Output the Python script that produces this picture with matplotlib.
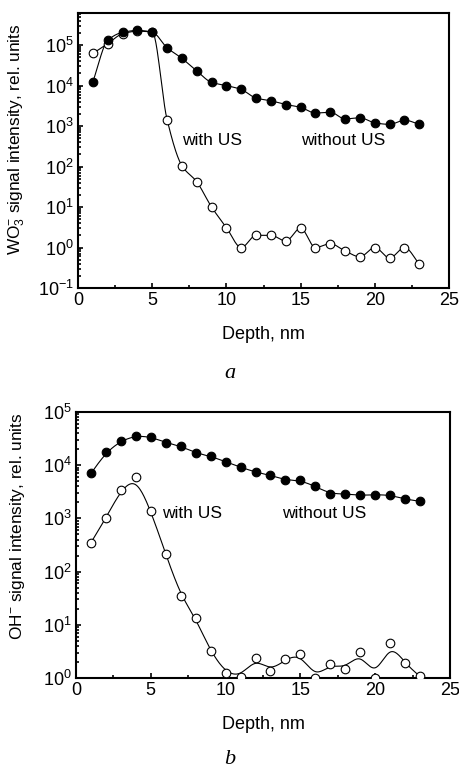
import numpy as np
import matplotlib
matplotlib.use("Agg")
import matplotlib.pyplot as plt
from matplotlib.ticker import LogLocator, FixedLocator, MultipleLocator, NullFormatter

plt.rcParams['font.family'] = ['Liberation Sans', 'DejaVu Sans']
plt.rcParams['mathtext.fontset'] = 'custom'
plt.rcParams['mathtext.rm'] = 'Liberation Sans'
plt.rcParams['mathtext.it'] = 'Liberation Sans:italic'

# -------------------- DATA --------------------
depth = list(range(1, 24))

# panel a: WO3- signal
wo3_without = [1.24e4, 1.3e5, 2.06e5, 2.3e5, 2.1e5, 8.6e4, 4.7e4, 2.3e4, 1.2e4,
               1.0e4, 8.0e3, 4.9e3, 4.2e3, 3.4e3, 2.9e3, 2.1e3, 2.2e3, 1.5e3,
               1.6e3, 1.2e3, 1.1e3, 1.4e3, 1.1e3]
wo3_with = [6.2e4, 1.08e5, 1.9e5, 2.2e5, 2.1e5, 1.45e3, 105, 42, 10, 3.1, 1.0,
            2.0, 2.0, 1.45, 3.0, 1.0, 1.24, 0.82, 0.59, 1.0, 0.55, 1.0, 0.39]

# panel b: OH- signal
oh_without = [7.0e3, 1.74e4, 2.86e4, 3.6e4, 3.4e4, 2.67e4, 2.28e4, 1.7e4, 1.48e4,
              1.16e4, 9.2e3, 7.4e3, 6.5e3, 5.25e3, 5.2e3, 4.0e3, 2.9e3, 2.9e3,
              2.7e3, 2.8e3, 2.75e3, 2.3e3, 2.1e3]
oh_with = [350, 1.02e3, 3.4e3, 6.0e3, 1.4e3, 213, 35.5, 13.3, 3.16, 1.26, 1.06,
           2.37, 1.35, 2.24, 2.86, 1.0, 1.86, 1.49, 3.1, 1.0, 4.6, 1.88, 1.07]

x_ticks = [0, 5, 10, 15, 20, 25]


# -------------------- SMOOTH LINES --------------------
def bspline(x, y, n=25):
    # clamped uniform cubic B-spline, in log space
    px = np.concatenate([[x[0]] * 2, x, [x[-1]] * 2]).astype(float)
    py = np.log10(np.concatenate([[y[0]] * 2, y, [y[-1]] * 2]))
    t = np.linspace(0, 1, n)
    b0 = (1 - t) ** 3 / 6
    b1 = (3 * t ** 3 - 6 * t ** 2 + 4) / 6
    b2 = (-3 * t ** 3 + 3 * t ** 2 + 3 * t + 1) / 6
    b3 = t ** 3 / 6
    xs, ys = [], []
    for i in range(len(px) - 3):
        xs.append(b0 * px[i] + b1 * px[i + 1] + b2 * px[i + 2] + b3 * px[i + 3])
        ys.append(b0 * py[i] + b1 * py[i + 1] + b2 * py[i + 2] + b3 * py[i + 3])
    return np.concatenate(xs), 10 ** np.concatenate(ys)


def pchip(x, y, n=25):
    # monotone cubic (Fritsch-Carlson), in log space
    x = np.asarray(x, float)
    ly = np.log10(y)
    d = np.diff(ly) / np.diff(x)
    m = np.zeros_like(ly)
    m[0], m[-1] = d[0], d[-1]
    for i in range(1, len(ly) - 1):
        if d[i - 1] * d[i] > 0:
            m[i] = 2 / (1 / d[i - 1] + 1 / d[i])
    t = np.linspace(0, 1, n)
    h00 = 2 * t ** 3 - 3 * t ** 2 + 1
    h10 = t ** 3 - 2 * t ** 2 + t
    h01 = -2 * t ** 3 + 3 * t ** 2
    h11 = t ** 3 - t ** 2
    xs, ys = [], []
    for i in range(len(x) - 1):
        h = x[i + 1] - x[i]
        xs.append(x[i] + t * h)
        ys.append(h00 * ly[i] + h10 * h * m[i] + h01 * ly[i + 1] + h11 * h * m[i + 1])
    return np.concatenate(xs), 10 ** np.concatenate(ys)


def draw_panel(ax, without, with_us, ylim, ylabel, text_pos, label_xy, smooth):
    for vals, face in [(with_us, 'white'), (without, 'black')]:
        sx, sy = smooth(depth, vals)
        ax.plot(sx, sy, color='black', lw=0.8, zorder=2)
        ax.plot(depth, vals, 'o', ms=6.2, mfc=face, mec='black', mew=0.8, zorder=3)

    ax.set_yscale('log')
    ax.set_xlim(0, 25)
    ax.set_ylim(*ylim)
    ax.xaxis.set_major_locator(FixedLocator(x_ticks))
    ax.xaxis.set_minor_locator(MultipleLocator(2.5))
    ax.yaxis.set_major_locator(LogLocator(base=10, numticks=10))
    ax.yaxis.set_minor_locator(LogLocator(base=10, subs=np.arange(2, 10), numticks=10))
    ax.yaxis.set_minor_formatter(NullFormatter())
    ax.tick_params(which='both', direction='in', top=False, right=False,
                   labelsize=13, width=1.2, pad=3)
    ax.tick_params(which='major', length=3.5)
    ax.tick_params(which='minor', length=2.2)
    for s in ax.spines.values():
        s.set_linewidth(1.5)

    ax.set_xlabel('Depth, nm', fontsize=13, labelpad=12)
    ax.set_ylabel(ylabel, fontsize=12.4)
    ax.yaxis.set_label_coords(*label_xy)

    ax.text(text_pos[0][0], text_pos[0][1], 'with US', fontsize=12.5,
            ha='center', va='center')
    ax.text(text_pos[1][0], text_pos[1][1], 'without US', fontsize=12.5,
            ha='center', va='center')


# -------------------- FIGURE --------------------
fig = plt.figure(figsize=(4.6, 7.69), dpi=100)

ax1 = fig.add_axes([0.1696, 0.6255, 0.8065, 0.3576])
draw_panel(ax1, wo3_without, wo3_with, (1e-1, 6.2e5),
           r'WO$_3^{-}$ signal intensity, rel. units',
           [(9.0, 450), (17.9, 450)], (-0.137, 0.54), pchip)
fig.text(0.5, 1 - 373 / 769, 'a', fontsize=16, style='italic',
         family='Liberation Serif', ha='center', va='center')

ax2 = fig.add_axes([0.1652, 0.1183, 0.813, 0.3459])
draw_panel(ax2, oh_without, oh_with, (1, 1e5),
           r'OH$^{-}$ signal intensity, rel. units',
           [(7.75, 1.26e3), (16.6, 1.26e3)], (-0.131, 0.57), bspline)
fig.text(0.5, 1 - 760 / 769, 'b', fontsize=16, style='italic',
         family='Liberation Serif', ha='center', va='center')

fig.savefig('out.png', dpi=100)
